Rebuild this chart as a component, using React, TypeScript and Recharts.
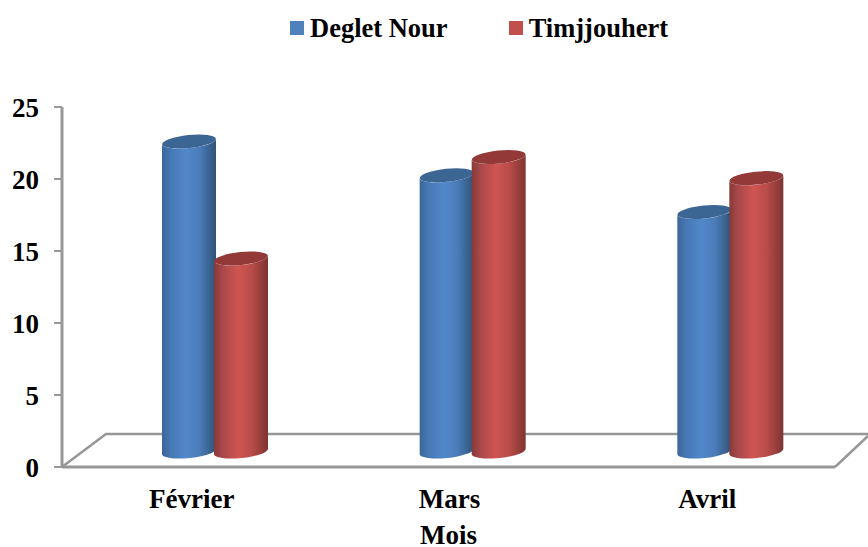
import React from 'react';
import { ComposedChart, Bar, XAxis, YAxis, Legend, Customized, usePlotArea } from 'recharts';

const months = ['Février', 'Mars', 'Avril'];
const degletNour = [22, 19.6, 17];
const timjjouhert = [13.7, 20.9, 19.4];
const yTicks = [0, 5, 10, 15, 20, 25];
const rows = months.map((mois, i) => ({ mois, degletNour: degletNour[i], timjjouhert: timjjouhert[i] }));

const FONT = '"Liberation Serif", "Times New Roman", serif';
const FS = 27;
const GREY = '#979797';
const SHIFT = 24;

const palettes = {
  blue: { id: 'cylBlue', top: '#3b6593', stops: ['#3a6699', '#4677b2', '#5288cb', '#4a7cb8', '#2f5378'] },
  red: { id: 'cylRed', top: '#933a38', stops: ['#853a38', '#a8474a', '#cf5552', '#b84c49', '#7e3432'] },
};
const stopAt = [0, 0.15, 0.45, 0.7, 1];

function Grad({ p }: { p: typeof palettes.blue }) {
  return (
    <linearGradient id={p.id} x1="0" y1="0" x2="1" y2="0">
      {p.stops.map((c, i) => (
        <stop key={i} offset={stopAt[i]} stopColor={c} />
      ))}
    </linearGradient>
  );
}

function cylinder(p: typeof palettes.blue) {
  return function Cyl(props: any) {
    const { x, y, width, height } = props;
    const l = x + SHIFT;
    const r = l + width;
    const rx = width / 2;
    const ry = 6.5;
    const rot = -6;
    const tilt = 2.8;
    const b = y + height;
    const body = `M${l},${y + tilt} L${l},${b + tilt} A${rx},${ry} ${rot} 0 0 ${r},${b - tilt} L${r},${y - tilt} A${rx},${ry} ${rot} 0 1 ${l},${y + tilt} Z`;
    return (
      <g>
        <path d={body} fill={`url(#${p.id})`} />
        <ellipse cx={l + rx} cy={y} rx={rx} ry={ry} fill={p.top} transform={`rotate(${rot} ${l + rx} ${y})`} />
      </g>
    );
  };
}

function Floor() {
  const a = usePlotArea();
  if (!a) return null;
  const bottom = a.y + a.height;
  const right = a.x + a.width;
  const d = `M${a.x},${bottom} L${a.x + 44},${bottom - 33} L${right + 33},${bottom - 33} M${right + 33},${bottom - 31} L${right},${bottom}`;
  return <path d={d} fill="none" stroke={GREY} strokeWidth={2.5} />;
}

function LegendBox({ payload }: any) {
  return (
    <div style={{ height: 56, display: 'flex', paddingLeft: 290, fontFamily: FONT, fontSize: 26.5, fontWeight: 700, color: '#000' }}>
      {(payload || []).map((e: any, i: number) => (
        <div key={e.value} style={{ display: 'flex', alignItems: 'center', height: 56, marginRight: i === 0 ? 61 : 0 }}>
          <span style={{ width: 14, height: 14, background: e.color, marginRight: 6, display: 'inline-block' }} />
          <span>{e.value}</span>
        </div>
      ))}
    </div>
  );
}

const tickStyle = { fontFamily: FONT, fontSize: FS, fontWeight: 700, fill: '#000' };

export default function App() {
  return (
    <div style={{ position: 'absolute', left: 0, top: 0, width: 868, height: 547, background: '#fff' }}>
      <ComposedChart
        width={868}
        height={547}
        data={rows}
        barSize={54}
        barGap={-2}
        margin={{ top: 51, right: 33, bottom: 0, left: 0 }}
      >
        <defs>
          <Grad p={palettes.blue} />
          <Grad p={palettes.red} />
        </defs>
        <Legend verticalAlign="top" align="left" content={<LegendBox />} wrapperStyle={{ top: 0, left: 0, width: 868 }} />
        <Customized component={<Floor />} />
        <XAxis
          dataKey="mois"
          height={80}
          tickLine={false}
          axisLine={{ stroke: GREY, strokeWidth: 3 }}
          tick={{ ...tickStyle, dx: 1 }}
          tickMargin={16}
          interval={0}
          label={{ value: 'Mois', position: 'insideBottom', offset: 3, style: tickStyle }}
        />
        <YAxis
          width={62}
          domain={[0, 25]}
          ticks={yTicks}
          interval={0}
          allowDataOverflow
          tickSize={8}
          tickMargin={15}
          tickLine={{ stroke: GREY, strokeWidth: 2 }}
          axisLine={{ stroke: GREY, strokeWidth: 3 }}
          tick={tickStyle}
        />
        <YAxis yAxisId="bars" hide domain={[-1.1, 24.45]} />
        <Bar yAxisId="bars" dataKey="degletNour" name="Deglet Nour" fill="#4f81bd" isAnimationActive={false} shape={cylinder(palettes.blue)} />
        <Bar yAxisId="bars" dataKey="timjjouhert" name="Timjjouhert" fill="#c0504d" isAnimationActive={false} shape={cylinder(palettes.red)} />
      </ComposedChart>
    </div>
  );
}
